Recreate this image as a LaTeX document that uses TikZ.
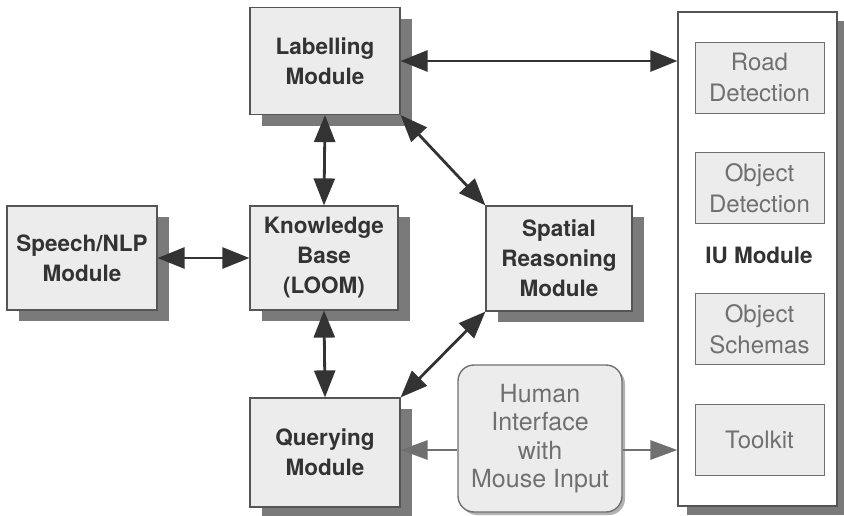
\documentclass[tikz,border=0pt]{standalone}
\usepackage{fontspec}
\setmainfont{TeX Gyre Heros}
\usetikzlibrary{arrows.meta,shadows}
\definecolor{boxfill}{HTML}{ECECEC}
\definecolor{boxline}{HTML}{555555}
\definecolor{shadowc}{HTML}{7A7A7A}
\definecolor{txt}{HTML}{333333}
\definecolor{greytxt}{HTML}{707070}
\begin{document}
\begin{tikzpicture}[x=1pt,y=-1pt,
  modbox/.style={draw=boxline,line width=1.2pt,fill=boxfill,align=center,
    font=\fontsize{22.5}{30}\selectfont\bfseries,text=txt,inner sep=0pt,
    drop shadow={shadow xshift=12pt,shadow yshift=-11pt,fill=shadowc,opacity=1}},
  subbox/.style={draw=greytxt,line width=0.9pt,fill=boxfill,align=center,
    font=\fontsize{24}{31}\selectfont,text=greytxt,inner sep=0pt,
    minimum width=129pt,minimum height=71pt},
  darrow/.style={line width=2.8pt,draw=txt,{Triangle[length=27pt,width=21pt]}-{Triangle[length=27pt,width=21pt]}},
  garrow/.style={line width=2.8pt,draw=greytxt,-{Triangle[length=27pt,width=19pt]}}
]
\useasboundingbox (0,0) rectangle (844,515);
% IU module container
\node[draw=boxline,line width=1.2pt,fill=white,minimum width=159pt,minimum height=494pt,inner sep=0pt,
  drop shadow={shadow xshift=9pt,shadow yshift=-9pt,fill=shadowc,opacity=1}] (iu) at (757.5,259) {};
\node[subbox] (road) at (759.5,77.5) {Road\\Detection};
\node[subbox] (objdet) at (759.5,188) {Object\\Detection};
\node[font=\fontsize{22.5}{26}\selectfont\bfseries,text=txt] (iulabel) at (759,255) {IU Module};
\node[subbox] (schemas) at (759.5,329) {Object\\Schemas};
\node[subbox] (toolkit) at (759.5,439.5) {Toolkit};
% modules
\node[modbox,minimum width=150pt,minimum height=107pt] (lab) at (325,61) {Labelling\\Module};
\node[modbox,minimum width=150pt,minimum height=104pt] (speech) at (82,258) {Speech/NLP\\Module};
\node[modbox,minimum width=148pt,minimum height=104pt] (kb) at (324,258) {Knowledge\\Base\\(LOOM)};
\node[modbox,minimum width=146pt,minimum height=105pt] (spat) at (559,258.5) {Spatial\\Reasoning\\Module};
\node[modbox,minimum width=150pt,minimum height=109pt] (query) at (325,452.5) {Querying\\Module};
\node[draw=greytxt,line width=1.4pt,fill=boxfill,rounded corners=16pt,minimum width=164pt,minimum height=147pt,
  inner sep=0pt,align=center,font=\fontsize{25}{28.5}\selectfont,text=greytxt,
  drop shadow={shadow xshift=3pt,shadow yshift=-3pt,fill=gray!60,opacity=1}] (human) at (540,438.5)
  {Human\\Interface\\with\\Mouse Input};
% connectors
\draw[darrow] (lab.east) -- (lab.east -| iu.west);
\draw[darrow] (lab.south) -- (kb.north);
\draw[darrow] (kb.south) -- (query.north);
\draw[darrow] (speech.east) -- (kb.west);
\draw[darrow] (lab.south east) -- (spat.north west);
\draw[darrow] (spat.south west) -- (query.north east);
\coordinate (hy) at (0,450);
\draw[garrow] (human.west |- hy) -- (query.east |- hy);
\draw[garrow] (human.east |- hy) -- (iu.west |- hy);
\end{tikzpicture}
\end{document}
